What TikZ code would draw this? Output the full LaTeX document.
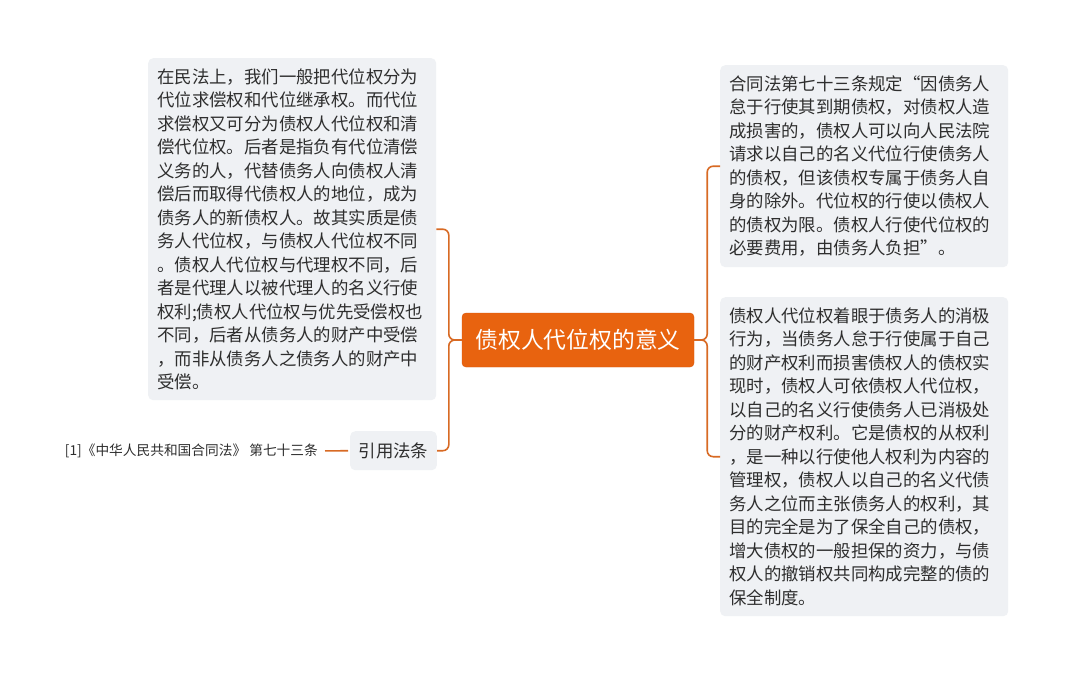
\documentclass[tikz,border=0pt]{standalone}
\usepackage{fontspec}
\newfontfamily\cjk{Noto Sans CJK SC}
\definecolor{boxfill}{HTML}{EFF1F4}
\definecolor{mainfill}{HTML}{E8630F}
\definecolor{mainline}{HTML}{D9570B}
\definecolor{linkcol}{HTML}{D86A24}
\definecolor{txt}{HTML}{2E2E2E}
\usetikzlibrary{positioning}

\begin{document}
\begin{tikzpicture}[x=1pt, y=-1pt,
	card/.style = {fill=boxfill, rounded corners=5pt, inner xsep=9pt, inner ysep=0pt,
		anchor=north west, align=left, text=txt,
		font=\cjk\fontsize{17.4}{23.5}\selectfont},
	link/.style = {draw=linkcol, line width=1.6pt, rounded corners=6pt}]
	\useasboundingbox[fill=white] (0,0) rectangle (1067,675);
	% centre
	\node[fill=mainfill, draw=mainline, rounded corners=4pt, text=white, minimum width=232pt,
		minimum height=54pt, font=\cjk\fontsize{22.8}{26}\selectfont] (root) at (578,340) {债权人代位权的意义};
	% left side
	\node[card, text width=270pt, minimum height=342pt] (meaning) at (148,58) {在民法上，我们一般把代位权分为\\代位求偿权和代位继承权。而代位\\求偿权又可分为债权人代位权和清\\偿代位权。后者是指负有代位清偿\\义务的人，代替债务人向债权人清\\偿后而取得代债权人的地位，成为\\债务人的新债权人。故其实质是债\\务人代位权，与债权人代位权不同\\。债权人代位权与代理权不同，后\\者是代理人以被代理人的名义行使\\权利;债权人代位权与优先受偿权也\\不同，后者从债务人的财产中受偿\\，而非从债务人之债务人的财产中\\受偿。};
	\node[card, minimum height=39pt, inner xsep=8.5pt] (law) at (350,431) {引用法条};
	\node[anchor=east, inner sep=0pt, text=txt, font=\cjk\fontsize{13.7}{16}\selectfont] (cite) at (318,451) {[1]《中华人民共和国合同法》 第七十三条};
	% right side
	\node[card, text width=270pt, minimum height=202pt] (article) at (720,65) {合同法第七十三条规定“因债务人\\怠于行使其到期债权，对债权人造\\成损害的，债权人可以向人民法院\\请求以自己的名义代位行使债务人\\的债权，但该债权专属于债务人自\\身的除外。代位权的行使以债权人\\的债权为限。债权人行使代位权的\\必要费用，由债务人负担”。};
	\node[card, text width=270pt, minimum height=319pt] (nature) at (720,297) {债权人代位权着眼于债务人的消极\\行为，当债务人怠于行使属于自己\\的财产权利而损害债权人的债权实\\现时，债权人可依债权人代位权，\\以自己的名义行使债务人已消极处\\分的财产权利。它是债权的从权利\\，是一种以行使他人权利为内容的\\管理权，债权人以自己的名义代债\\务人之位而主张债务人的权利，其\\目的完全是为了保全自己的债权，\\增大债权的一般担保的资力，与债\\权人的撤销权共同构成完整的债的\\保全制度。};
	% connectors
	\draw[link] (root.west) -- ++(-13,0) |- (meaning.east);
	\draw[link] (root.west) -- ++(-13,0) |- (law.east);
	\draw[link] (root.east) -- ++(13,0) |- (article.west);
	\draw[link] (root.east) -- ++(13,0) |- (nature.west);
	\draw[link, shorten <=7pt, shorten >=2pt] (cite.east) -- (law.west);
\end{tikzpicture}
\end{document}
